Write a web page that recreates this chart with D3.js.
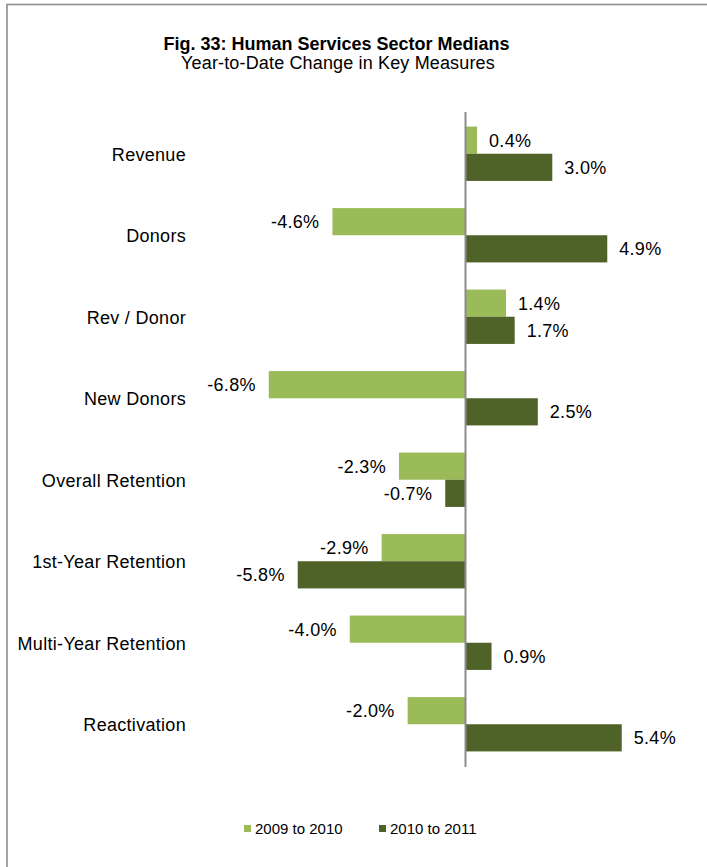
<!DOCTYPE html>
<html>
<head>
<meta charset="utf-8">
<script src="https://cdn.jsdelivr.net/npm/d3@7"></script>
<style>
  html, body { margin: 0; padding: 0; background: #fff; }
  svg { display: block; font-family: "Liberation Sans", Arial, sans-serif; }
</style>
</head>
<body>
<script>
// Year-to-date change (%) for each key measure
const categories = ["Revenue", "Donors", "Rev / Donor", "New Donors", "Overall Retention",
                    "1st-Year Retention", "Multi-Year Retention", "Reactivation"];
const series2009to2010 = [0.4, -4.6, 1.4, -6.8, -2.3, -2.9, -4.0, -2.0];
const series2010to2011 = [3.0, 4.9, 1.7, 2.5, -0.7, -5.8, 0.9, 5.4];
const seriesNames = ["2009 to 2010", "2010 to 2011"];
const seriesColors = ["#9BBB59", "#4F6228"];

const W = 707, H = 867;
const svg = d3.select("body").append("svg").attr("width", W).attr("height", H);

// frame
svg.append("rect")
  .attr("x", 7).attr("y", 4.5).attr("width", W + 20).attr("height", H + 20)
  .attr("fill", "none").attr("stroke", "#8c8c8c").attr("stroke-width", 1.6);

// titles
svg.append("text").attr("x", 336.5).attr("y", 50).attr("text-anchor", "middle")
  .attr("font-size", 18).attr("font-weight", "bold").attr("fill", "#000")
  .text("Fig. 33: Human Services Sector Medians");
svg.append("text").attr("x", 338).attr("y", 69).attr("text-anchor", "middle")
  .attr("font-size", 18).attr("letter-spacing", 0.15).attr("fill", "#000")
  .text("Year-to-Date Change in Key Measures");

// scales
const unit = 28.93;      // px per percentage point
const zeroX = 465.5;
const x = d3.scaleLinear().domain([-8, 6]).range([zeroX - 8 * unit, zeroX + 6 * unit]);
const y = d3.scaleBand().domain(categories).range([113, 765]).paddingInner(0).paddingOuter(0);
const sub = d3.scaleBand().domain([0, 1]).range([0, y.bandwidth()]).paddingInner(0).paddingOuter(0.5);

const fmt = v => d3.format(".1f")(v).replace("\u2212", "-") + "%";
const seriesData = [series2009to2010, series2010to2011];

const groups = svg.append("g").selectAll("g")
  .data(categories).join("g")
  .attr("transform", d => `translate(0,${y(d)})`);

groups.each(function (cat, i) {
  const g = d3.select(this);
  seriesData.forEach((vals, s) => {
    const v = vals[i];
    const x0 = Math.min(x(0), x(v)), x1 = Math.max(x(0), x(v));
    g.append("rect")
      .attr("x", x0).attr("y", sub(s))
      .attr("width", x1 - x0).attr("height", sub.bandwidth())
      .attr("fill", seriesColors[s]);
    const pos = v >= 0;
    g.append("text")
      .attr("x", pos ? x(v) + 12 : x(v) - 13)
      .attr("y", sub(s) + sub.bandwidth() / 2)
      .attr("dy", "0.36em")
      .attr("text-anchor", pos ? "start" : "end")
      .attr("font-size", 18).attr("letter-spacing", 0.3).attr("fill", "#000")
      .text(fmt(v));
  });
});

// zero axis
svg.append("line")
  .attr("x1", x(0)).attr("x2", x(0)).attr("y1", 112).attr("y2", 767)
  .attr("stroke", "#8c8c8c").attr("stroke-width", 2);

// category axis labels
const yAxis = d3.axisLeft(y).tickSize(0).tickPadding(0);
const ya = svg.append("g").attr("transform", "translate(186,0)").call(yAxis);
ya.select(".domain").remove();
ya.selectAll("text").attr("font-size", 18).attr("letter-spacing", 0.3).attr("fill", "#000")
  .attr("font-family", "'Liberation Sans', Arial, sans-serif").attr("dy", "0.38em");

// legend
const legendX = [244, 379];
const legend = svg.append("g").selectAll("g").data(seriesNames).join("g")
  .attr("transform", (d, i) => `translate(${legendX[i]},825)`);
legend.append("rect").attr("width", 7).attr("height", 7).attr("fill", (d, i) => seriesColors[i]);
legend.append("text").attr("x", 11).attr("y", 8.5).attr("font-size", 15).attr("fill", "#000")
  .text(d => d);
</script>
</body>
</html>
